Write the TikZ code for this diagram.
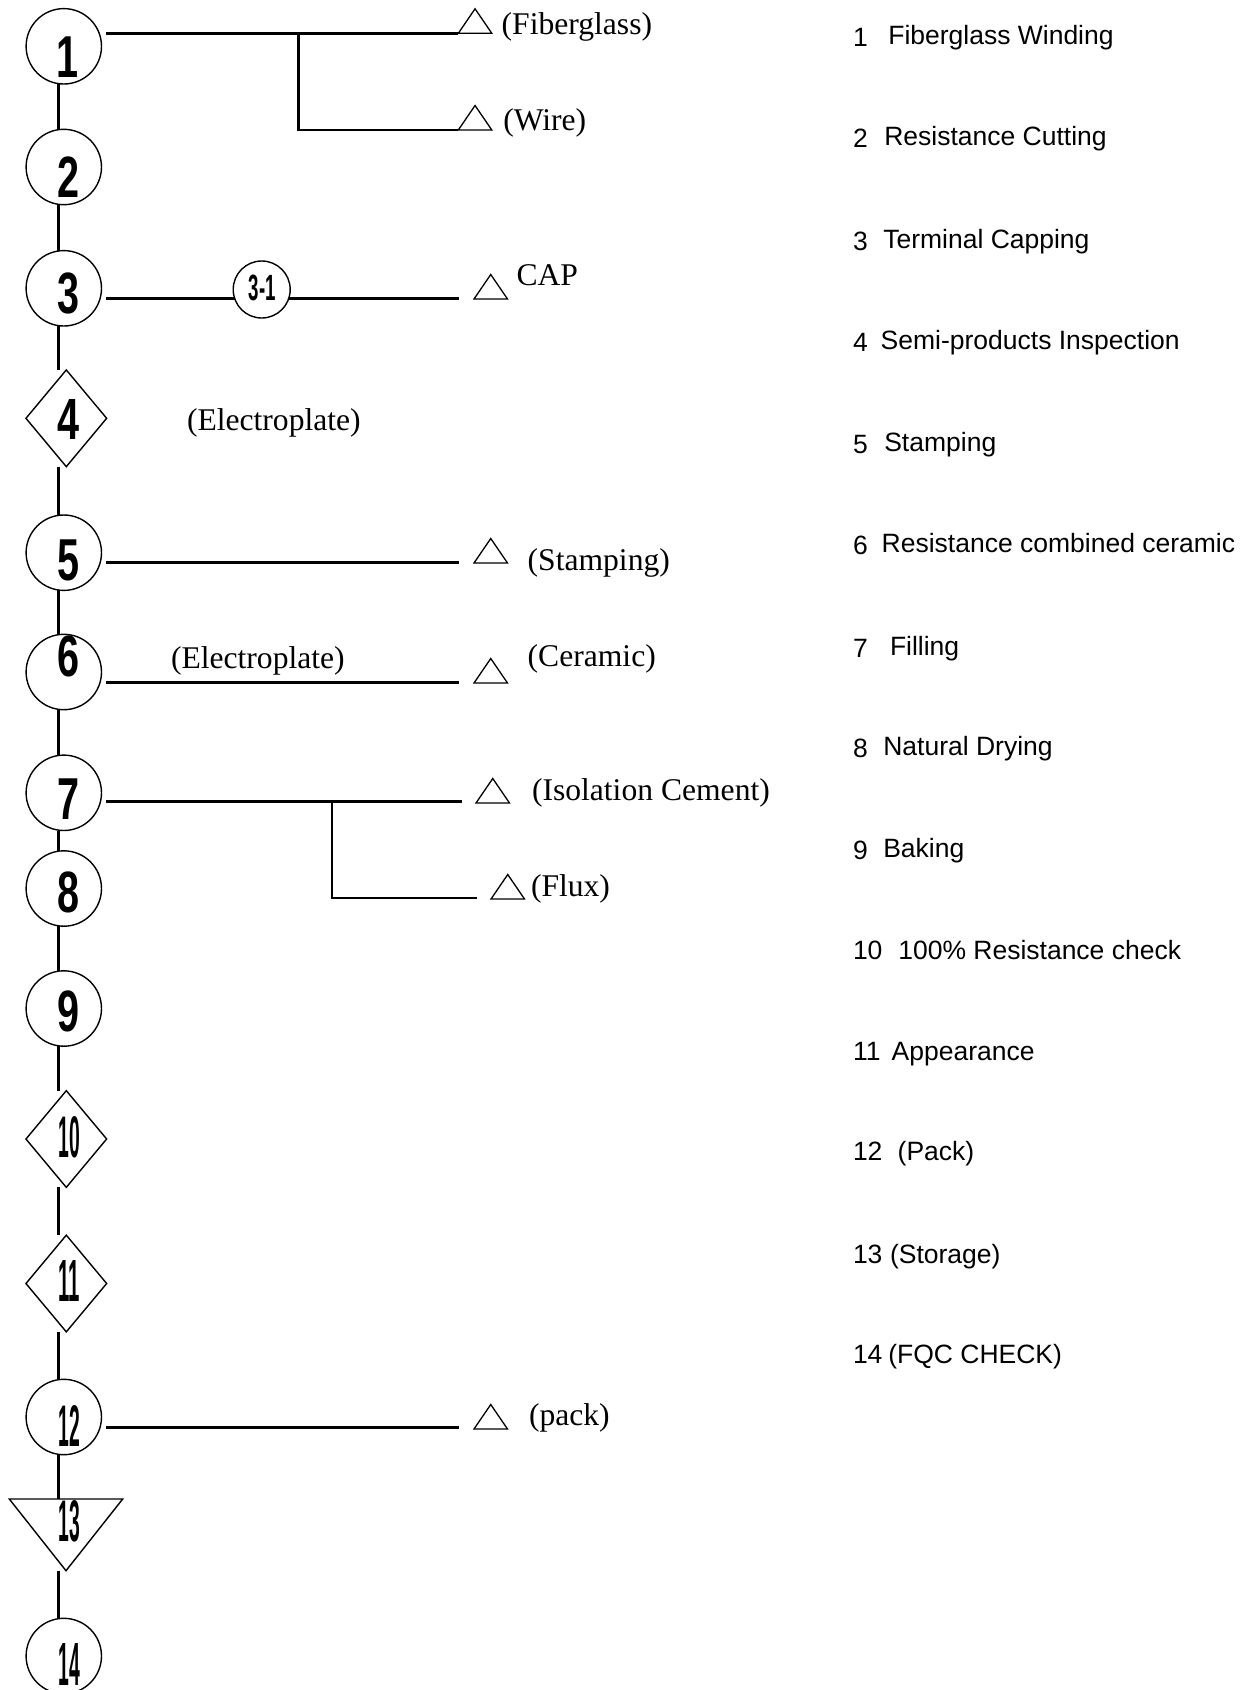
\documentclass[tikz,border=0pt]{standalone}
\usepackage{fontspec}
\setmainfont{Liberation Serif}
\newfontfamily\sansf{Liberation Sans}
\usetikzlibrary{shapes.geometric}
\tikzset{
  every node/.style={inner sep=0pt, outer sep=0pt},
  circ/.style={circle, draw, line width=1.4pt, minimum size=75.4pt},
  dia/.style={diamond, draw, line width=1.4pt, minimum width=80.7pt, minimum height=96.7pt},
  tribox/.style={rectangle, minimum width=33.5pt, minimum height=24.5pt, anchor=south west},
  triline/.style={line width=1.3pt, line join=miter},
  spine/.style={line width=2.7pt},
  hline/.style={line width=2.9pt},
  dig/.style={font=\sansf\bfseries},
  lab/.style={anchor=base west, font=\fontsize{31.6pt}{36pt}\selectfont},
  rtxt/.style={anchor=base west, font=\sansf\fontsize{26.5pt}{30pt}\selectfont},
}
\begin{document}
\begin{tikzpicture}[x=1pt,y=-1pt]
\useasboundingbox (0,0) rectangle (1247,1690);
\coordinate (sp) at (58.3,0);
% ---- process shapes ----
\node[circ] (n1) at (63.8,46.3) {};
\node[circ] (n2) at (63.8,167) {};
\node[circ] (n3) at (63.8,288.3) {};
\node[dia]  (n4) at (66.3,418.3) {};
\node[circ] (n5) at (63.8,552.7) {};
\node[circ] (n6) at (63.8,672) {};
\node[circ] (n7) at (63.8,792.8) {};
\node[circ] (n8) at (63.8,888.5) {};
\node[circ] (n9) at (63.8,1008.5) {};
\node[dia]  (n10) at (66.3,1139) {};
\node[dia]  (n11) at (66.3,1283.5) {};
\node[circ] (n12) at (63.8,1417) {};
\node[minimum width=113.4pt, minimum height=71.7pt] (n13) at (66,1534.85) {};
\draw[line width=1.4pt, line join=miter] (n13.north west) -- (n13.north east) -- (n13.south) -- cycle;
\node[circ] (n14) at (63.8,1656) {};
% ---- digits ----
\node[dig] (d1) at (67.5,57) {\resizebox{22pt}{40.7pt}{1}};
\node[dig] (d2) at (68.8,176.7) {\resizebox{22pt}{40.7pt}{2}};
\node[dig] (d3) at (68.8,293.7) {\resizebox{22pt}{40.7pt}{3}};
\node[dig] (d4) at (68.8,419) {\resizebox{22pt}{40pt}{4}};
\node[dig] (d5) at (68.8,560) {\resizebox{22pt}{40.7pt}{5}};
\node[dig] (d6) at (68.8,656.3) {\resizebox{22pt}{40.7pt}{6}};
\node[dig] (d7) at (68.8,799) {\resizebox{22pt}{40.7pt}{7}};
\node[dig] (d8) at (68.8,892.5) {\resizebox{22pt}{40.7pt}{8}};
\node[dig] (d9) at (68.8,1011) {\resizebox{22pt}{40.7pt}{9}};
\node[dig] (d10) at (69.3,1137) {\resizebox{21.5pt}{41pt}{10}};
\node[dig] (d11) at (69.3,1281) {\resizebox{21.5pt}{41pt}{11}};
\node[dig] (d12) at (69.3,1425.5) {\resizebox{21.5pt}{41pt}{12}};
\node[dig] (d13) at (69.3,1521.2) {\resizebox{21.5pt}{41pt}{13}};
\node[dig] (d14) at (69.3,1664) {\resizebox{21.5pt}{42pt}{14}};
% ---- spine connectors ----
\foreach \a/\b in {n1/n2,n2/n3,n3/n4,n4/n5,n5/n6,n6/n7,n7/n8,n8/n9,n9/n10,n10/n11,n11/n12,n12/n13,n13/n14}
  \draw[spine] (\a.south -| sp) -- (\b.north -| sp);
% ---- material triangles ----
\node[tribox] (t1) at (458.3,33.3) {};
\node[tribox] (t2) at (458.3,130) {};
\node[tribox] (t3) at (474,299) {};
\node[tribox] (t5) at (474,563) {};
\node[tribox] (t6) at (474,683) {};
\node[tribox] (t7) at (476,803) {};
\node[tribox] (t7b) at (491,899) {};
\node[tribox] (t12) at (474,1429) {};
\foreach \t in {t1,t2,t3,t5,t6,t7,t7b,t12}
  \draw[triline] (\t.south west) -- (\t.south east) -- (\t.north) -- cycle;
% ---- branch lines ----
\coordinate (b1) at (298.7,33.3);
\draw[hline, shorten <=4.3pt] (t1.south west -| n1.east) -- (t1.south west);
\draw[hline] (b1) |- (t2.south west);
\coordinate (e3) at (459,298.8);
\draw[hline, shorten <=4.3pt] (e3 -| n3.east) -- (e3);
\node[circle, draw, fill=white, line width=1.4pt, minimum size=57pt] (n31) at (261.7,289.5) {};
\node[dig] (d31) at (262.2,287.5) {\resizebox{27pt}{25.5pt}{3-1}};
\coordinate (e5) at (459,562.3);
\draw[hline, shorten <=4.3pt] (e5 -| n5.east) -- (e5);
\coordinate (e6) at (459,682.3);
\draw[hline, shorten <=4.3pt] (e6 -| n6.east) -- (e6);
\coordinate (e7) at (461.5,801.7);
\coordinate (b7) at (332,801.7);
\coordinate (e7b) at (477,898);
\draw[hline, shorten <=4.3pt] (e7 -| n7.east) -- (e7);
\draw[hline] (b7) |- (e7b);
\coordinate (e12) at (459,1427.5);
\draw[hline, shorten <=4.3pt] (e12 -| n12.east) -- (e12);
% ---- material labels ----
\node[lab] (l1) at (501.7,34.3) {(Fiberglass)};
\node[lab] (l2) at (503.3,130) {(Wire)};
\node[lab] (l3) at (516.5,285) {CAP};
\node[lab] (l4) at (187,430) {(Electroplate)};
\node[lab] (l5) at (527.7,570) {(Stamping)};
\node[lab] (l6a) at (171,668) {(Electroplate)};
\node[lab] (l6) at (527.7,666.7) {(Ceramic)};
\node[lab] (l7) at (532,800) {(Isolation Cement)};
\node[lab] (l7b) at (531,896) {(Flux)};
\node[lab] (l12) at (529,1425) {(pack)};
% ---- legend ----
\node[rtxt] (r1n) at (853,46) {1};   \node[rtxt] (r1) at (888.3,44) {Fiberglass Winding};
\node[rtxt] (r2n) at (853,147.6) {2}; \node[rtxt] (r2) at (884.3,145.6) {Resistance Cutting};
\node[rtxt] (r3n) at (853,250.3) {3}; \node[rtxt] (r3) at (883.3,248.3) {Terminal Capping};
\node[rtxt] (r4n) at (853,351.4) {4}; \node[rtxt] (r4) at (880.7,349.4) {Semi-products Inspection};
\node[rtxt] (r5n) at (853,453.3) {5}; \node[rtxt] (r5) at (884.3,451.3) {Stamping};
\node[rtxt] (r6n) at (853,554.9) {6}; \node[rtxt] (r6) at (881.7,552.9) {Resistance combined ceramic};
\node[rtxt] (r7n) at (853,657) {7};   \node[rtxt] (r7) at (890,655) {Filling};
\node[rtxt] (r8n) at (853,757.6) {8}; \node[rtxt] (r8) at (883.3,755.6) {Natural Drying};
\node[rtxt] (r9n) at (853,859.7) {9}; \node[rtxt] (r9) at (883.3,857.7) {Baking};
\node[rtxt] (r10n) at (853,959.7) {10}; \node[rtxt] (r10) at (898.3,959.7) {100\% Resistance check};
\node[rtxt] (r11n) at (853,1060.7) {11}; \node[rtxt] (r11) at (891.7,1060.7) {Appearance};
\node[rtxt] (r12n) at (853,1160) {12}; \node[rtxt] (r12) at (897.7,1160) {(Pack)};
\node[rtxt] (r13n) at (853,1263) {13}; \node[rtxt] (r13) at (890,1263) {(Storage)};
\node[rtxt] (r14n) at (853,1363.8) {14}; \node[rtxt] (r14) at (888.3,1363.8) {(FQC CHECK)};
\end{tikzpicture}
\end{document}
